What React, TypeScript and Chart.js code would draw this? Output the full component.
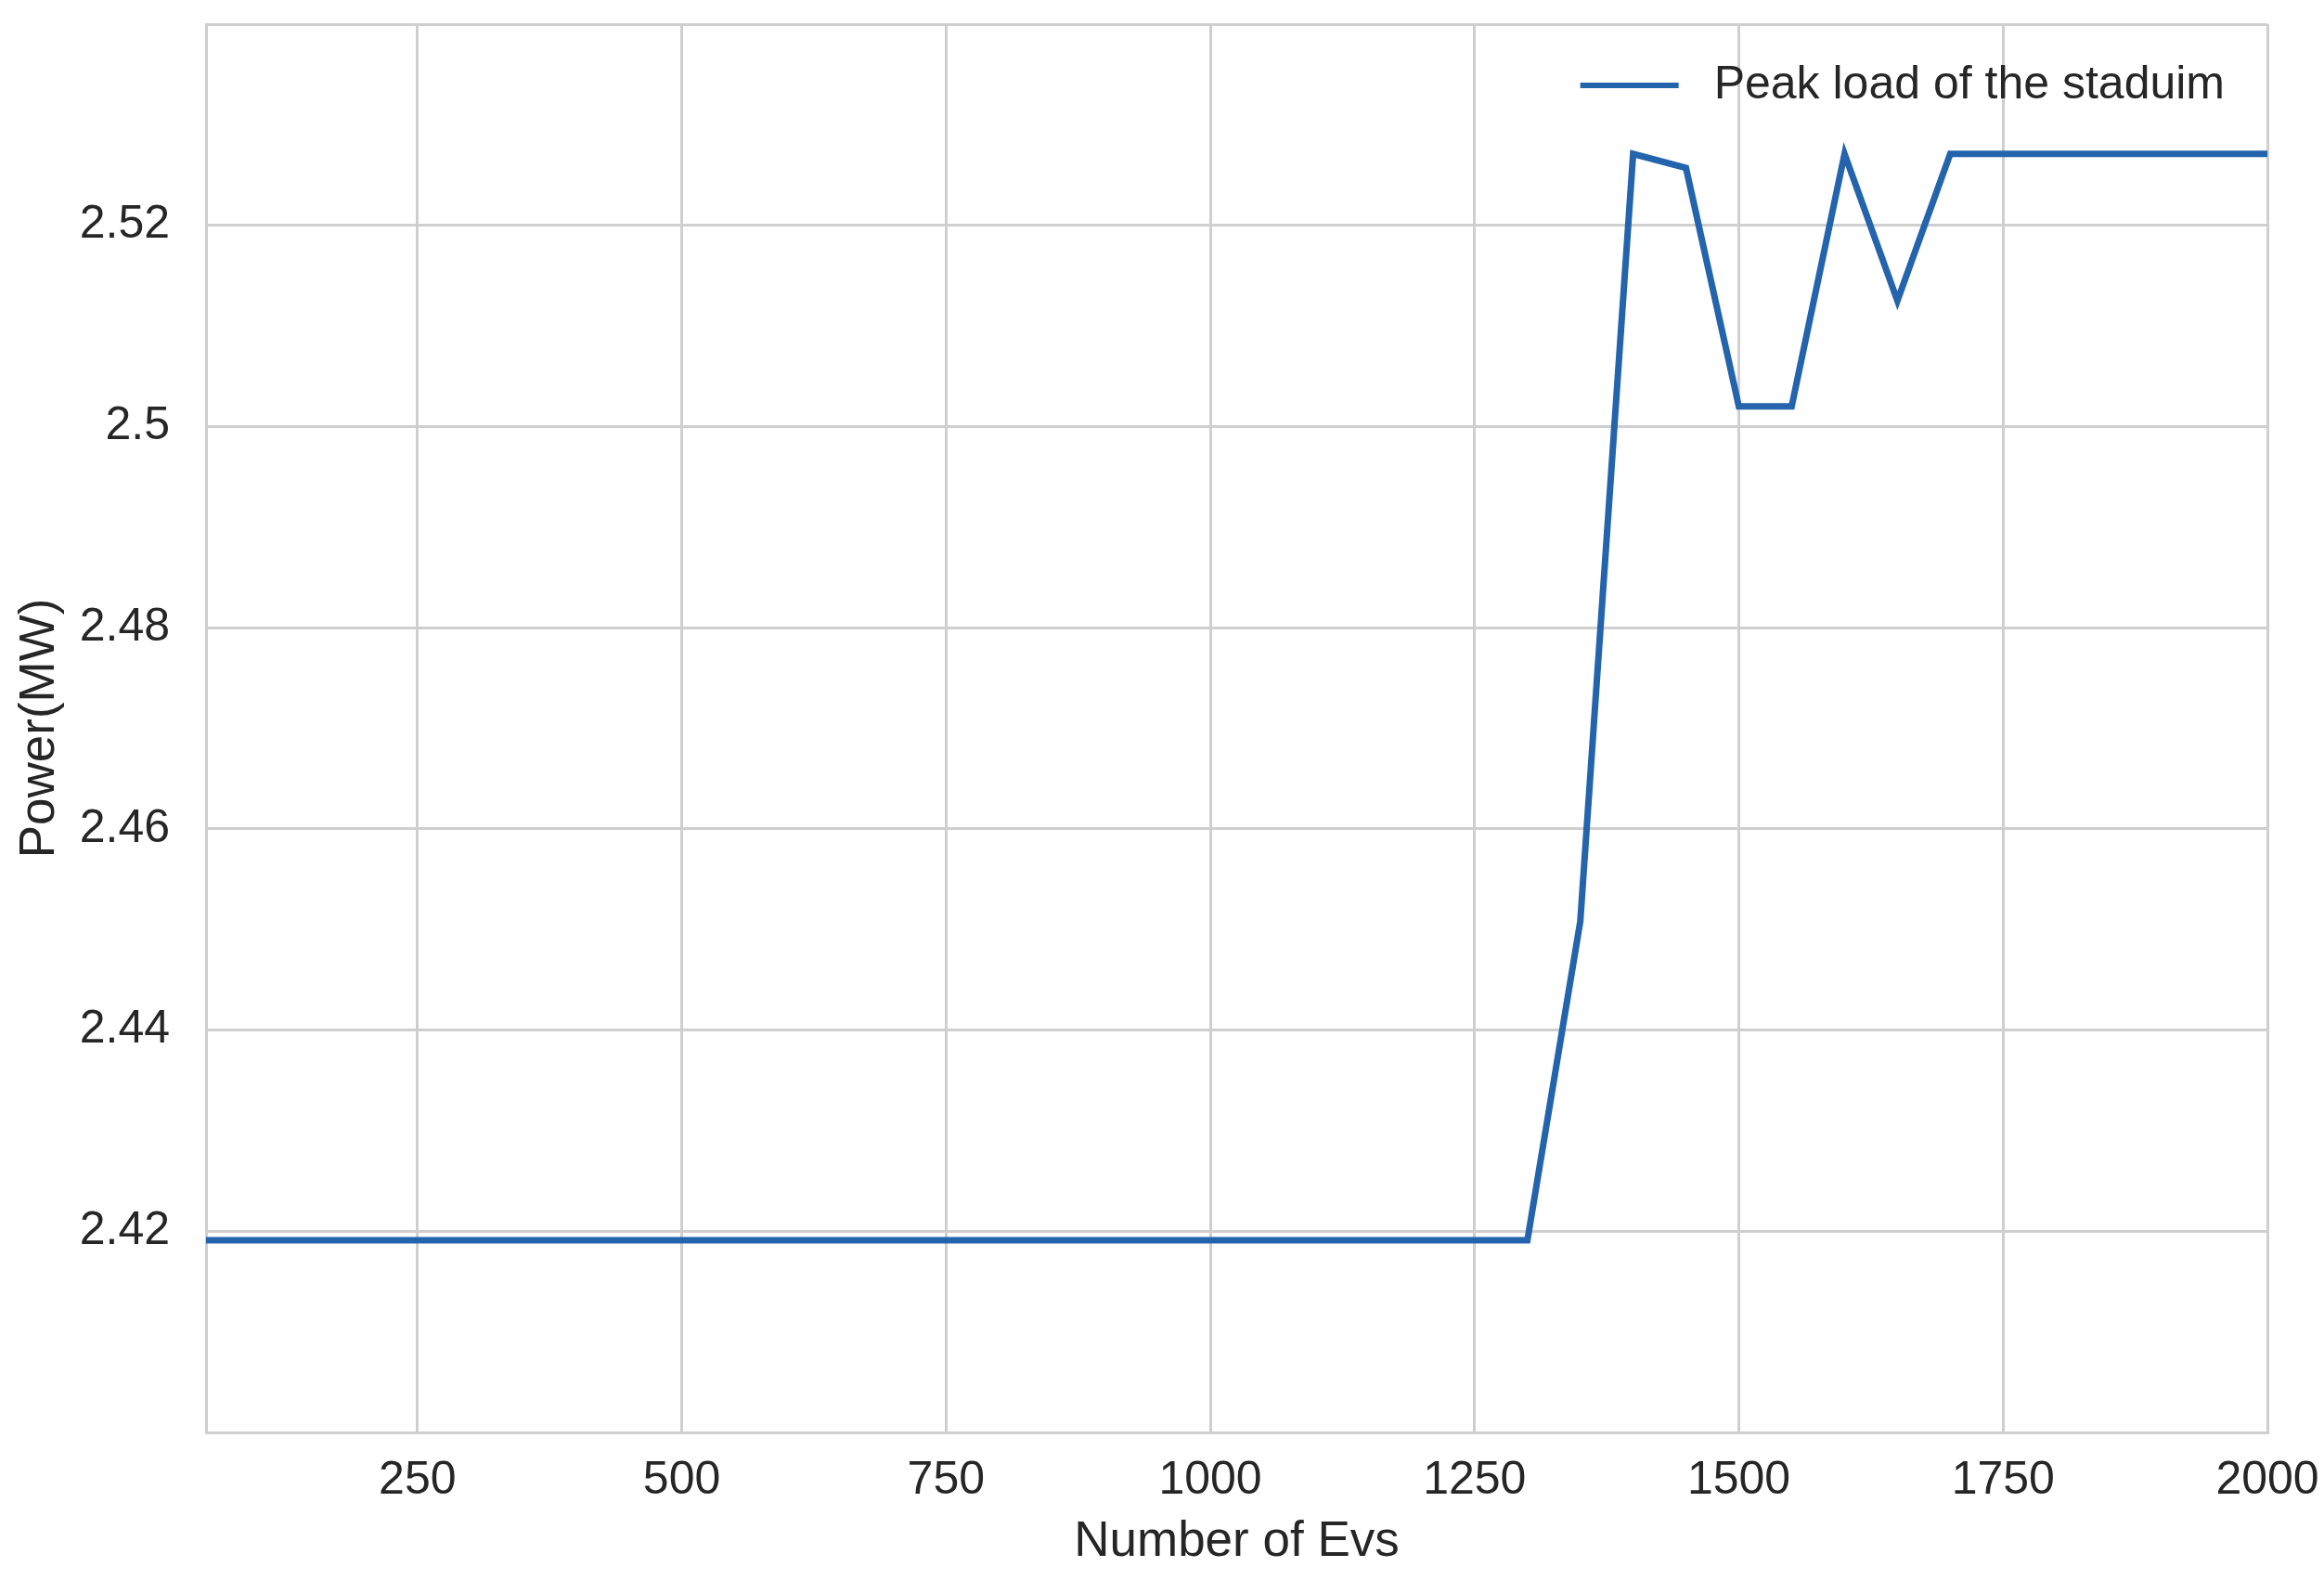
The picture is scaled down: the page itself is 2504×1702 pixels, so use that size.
import React, { useEffect, useRef } from "react";
import { Chart, registerables } from "chart.js";

Chart.register(...registerables);

const evCounts = [
  50, 100, 150, 200, 250, 300, 350, 400, 450, 500,
  550, 600, 650, 700, 750, 800, 850, 900, 950, 1000,
  1050, 1100, 1150, 1200, 1250, 1300, 1350, 1400, 1450, 1500,
  1550, 1600, 1650, 1700, 1750, 1800, 1850, 1900, 1950, 2000,
];

const peakLoad = [
  2.4191, 2.4191, 2.4191, 2.4191, 2.4191, 2.4191, 2.4191, 2.4191, 2.4191, 2.4191,
  2.4191, 2.4191, 2.4191, 2.4191, 2.4191, 2.4191, 2.4191, 2.4191, 2.4191, 2.4191,
  2.4191, 2.4191, 2.4191, 2.4191, 2.4191, 2.4191, 2.4508, 2.5271, 2.5257, 2.502,
  2.502, 2.5271, 2.5125, 2.5271, 2.5271, 2.5271, 2.5271, 2.5271, 2.5271, 2.5271,
];

const xTicks = [250, 500, 750, 1000, 1250, 1500, 1750, 2000];
const yTicks = [2.4, 2.42, 2.44, 2.46, 2.48, 2.5, 2.52, 2.54];
const yTickLabels = ["", "2.42", "2.44", "2.46", "2.48", "2.5", "2.52", ""];

const seriesLabel = "Peak load of the staduim";
const xTitle = "Number of Evs";
const yTitle = "Power(MW)";

const W = 2504;
const H = 1702;
const FONT = "'Liberation Sans', Arial, Helvetica, sans-serif";
const TEXT = "#262626";
const GRID = "#cfcfcf";
const LINE = "#2364ad";

const legendPlugin = {
  id: "insideLegend",
  afterDraw(chart: any) {
    const ctx = chart.ctx;
    const ds = chart.data.datasets[0];
    const area = chart.chartArea;
    const y = area.top + 66;
    const textRight = area.right - 46;
    ctx.save();
    ctx.font = `50px ${FONT}`;
    const tw = ctx.measureText(ds.label).width;
    const textX = textRight - tw;
    ctx.strokeStyle = ds.borderColor;
    ctx.lineWidth = 6;
    ctx.lineCap = "butt";
    ctx.beginPath();
    ctx.moveTo(textX - 144, y);
    ctx.lineTo(textX - 38, y);
    ctx.stroke();
    ctx.fillStyle = TEXT;
    ctx.textBaseline = "middle";
    ctx.textAlign = "left";
    ctx.fillText(ds.label, textX, y);
    ctx.restore();
  },
};

export default function App() {
  const ref = useRef<HTMLCanvasElement | null>(null);

  useEffect(() => {
    document.body.style.margin = "0";
    const canvas = ref.current;
    if (!canvas) return;
    const chart = new Chart(canvas, {
      type: "line",
      data: {
        datasets: [
          {
            label: seriesLabel,
            data: evCounts.map((x, i) => ({ x, y: peakLoad[i] })),
            borderColor: LINE,
            backgroundColor: LINE,
            borderWidth: 7,
            pointRadius: 0,
            tension: 0,
            fill: false,
          },
        ],
      },
      options: {
        animation: false,
        responsive: false,
        maintainAspectRatio: false,
        layout: { padding: { top: 26, right: 61, left: 0, bottom: 0 } },
        plugins: {
          legend: { display: false },
          tooltip: { enabled: false },
        },
        scales: {
          x: {
            type: "linear",
            min: 50,
            max: 2000,
            afterFit(scale: any) {
              scale.height = H - 1543;
              scale.paddingLeft = 0;
              scale.paddingRight = 0;
              scale.paddingTop = 0;
              scale.paddingBottom = 0;
            },
            afterBuildTicks(scale: any) {
              scale.ticks = xTicks.map((v) => ({ value: v }));
            },
            grid: {
              color: GRID,
              lineWidth: 3,
              drawTicks: false,
              tickLength: 0,
            },
            border: { display: true, color: GRID, width: 3 },
            ticks: {
              padding: 22,
              color: TEXT,
              font: { family: FONT, size: 50 },
              maxRotation: 0,
              autoSkip: false,
              callback: (v: any) => String(v),
            },
            title: {
              display: true,
              text: xTitle,
              color: TEXT,
              font: { family: FONT, size: 53 },
              padding: { top: 0, bottom: 9 },
            },
          },
          y: {
            type: "linear",
            min: 2.4,
            max: 2.54,
            afterFit(scale: any) {
              scale.width = 222;
              scale.paddingLeft = 0;
              scale.paddingRight = 0;
              scale.paddingTop = 0;
              scale.paddingBottom = 0;
            },
            afterBuildTicks(scale: any) {
              scale.ticks = yTicks.map((v) => ({ value: v }));
            },
            grid: {
              color: GRID,
              lineWidth: 3,
              drawTicks: false,
              tickLength: 0,
            },
            border: { display: true, color: GRID, width: 3 },
            ticks: {
              padding: 39,
              color: TEXT,
              font: { family: FONT, size: 50 },
              autoSkip: false,
              callback: (_v: any, i: number) => yTickLabels[i],
            },
            title: {
              display: true,
              text: yTitle,
              color: TEXT,
              font: { family: FONT, size: 53 },
              padding: { top: 12, bottom: 0 },
            },
          },
        },
      },
      plugins: [legendPlugin],
    } as any);
    return () => chart.destroy();
  }, []);

  return (
    <div style={{ position: "absolute", left: 0, top: 0, width: W, height: H, background: "#fff" }}>
      <canvas ref={ref} width={W} height={H} style={{ width: W, height: H, display: "block" }} />
    </div>
  );
}
